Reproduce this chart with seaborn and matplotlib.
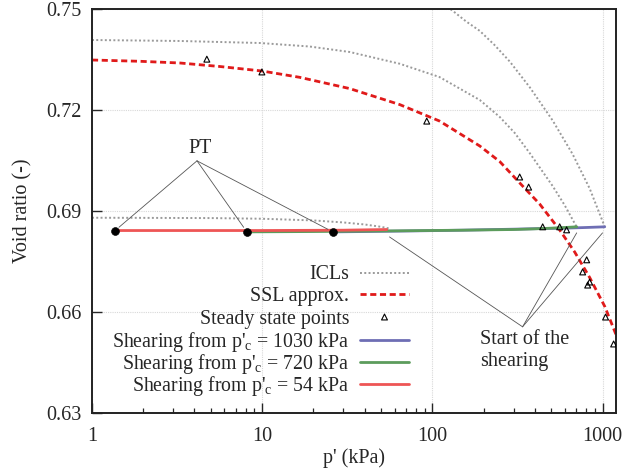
import numpy as np
import pandas as pd
import matplotlib
matplotlib.use("Agg")
import matplotlib.pyplot as plt
import seaborn as sns
from matplotlib.ticker import LogLocator, NullFormatter

# isotropic compression lines
icl_upper_p = [1, 3.29, 9.7, 19.0, 32.7, 64.3, 110, 190, 249, 305, 373, 509, 598, 705]
icl_upper_e = [0.74079, 0.74050, 0.73990, 0.73886, 0.73723, 0.73374, 0.72980, 0.72297,
               0.71792, 0.71317, 0.70723, 0.69743, 0.69179, 0.68525]
icl_steep_p = [110, 130, 157, 190, 232, 285, 373, 509, 667, 840, 1029]
icl_steep_e = [0.7518, 0.7497, 0.7464, 0.7435, 0.7393, 0.7344, 0.7268, 0.7169, 0.7069, 0.6967, 0.6854]
icl_lower_p = [1, 5, 10, 20, 30, 40, 50, 56]
icl_lower_e = [0.6880, 0.6879, 0.6877, 0.6872, 0.6866, 0.6860, 0.6853, 0.6848]

# steady state line approximation
ssl_p = [1, 1.91, 3.29, 5.64, 9.96, 16.6, 32.7, 64.3, 110, 190, 249, 339, 427, 560, 686, 840, 1031, 1200]
ssl_e = [0.73485, 0.73447, 0.73396, 0.73292, 0.73159, 0.72971, 0.72636, 0.72161, 0.71674,
         0.70931, 0.70468, 0.69743, 0.69209, 0.68436, 0.67783, 0.67026, 0.66164, 0.65330]

# steady state points
ss_p = [4.73, 9.96, 92.7, 326, 368, 445, 560, 615, 807, 764, 840, 818, 1042, 1162]
ss_e = [0.7351, 0.7313, 0.7167, 0.7001, 0.6971, 0.6853, 0.6853, 0.6844, 0.6755,
        0.6719, 0.6689, 0.6680, 0.6585, 0.6505]

# shearing paths
sh1030_p = [1030, 800, 600, 450, 300, 150, 80, 40, 26]
sh1030_e = [0.6853, 0.6851, 0.6849, 0.6848, 0.6846, 0.6843, 0.6841, 0.6839, 0.6838]
sh720_p = [705, 600, 500, 400, 300, 150, 60, 20, 8.1]
sh720_e = [0.6853, 0.6851, 0.6849, 0.6847, 0.6845, 0.6843, 0.6841, 0.6839, 0.6838]
sh54_p = [54, 30, 10, 5, 2, 1.36]
sh54_e = [0.6845, 0.6843, 0.6842, 0.6842, 0.6842, 0.6842]

# phase transformation points
pt_p = [1.36, 8.13, 26.0]
pt_e = [0.6841, 0.6838, 0.6838]

legend_labels = ["ICLs", "SSL approx.", "Steady state points",
                 "Shearing from p'$_\\mathregular{c}$ = 1030 kPa",
                 "Shearing from p'$_\\mathregular{c}$ = 720 kPa",
                 "Shearing from p'$_\\mathregular{c}$ = 54 kPa"]

sns.set_style("ticks")
plt.rcParams["font.family"] = ["Liberation Serif", "DejaVu Serif"]
plt.rcParams["mathtext.fontset"] = "custom"
plt.rcParams["mathtext.rm"] = "Liberation Serif"
fs = 14.5

fig = plt.figure(figsize=(6.28, 4.72), dpi=100)
ax = fig.add_axes([92 / 628, 1 - 413 / 472, 524 / 628, 404 / 472])

icl_style = dict(color="#9a9a9a", linestyle=(0, (1, 1.2)), linewidth=1.4)
ssl_style = dict(color="#e01a1a", linestyle=(0, (2.2, 1.3)), linewidth=2.0)
tri_style = dict(marker="^", s=18, facecolor="none", edgecolor="black", linewidth=0.8)
sh_colors = ["#6e6eb4", "#5c9c5c", "#ee5555"]

for pp, ee in [(icl_upper_p, icl_upper_e), (icl_steep_p, icl_steep_e), (icl_lower_p, icl_lower_e)]:
    sns.lineplot(x=pp, y=ee, sort=False, estimator=None, ax=ax, **icl_style)

sns.lineplot(x=ssl_p, y=ssl_e, sort=False, estimator=None, ax=ax, **ssl_style)
sns.scatterplot(x=ss_p, y=ss_e, ax=ax, zorder=5, **tri_style)

for (pp, ee), c in zip([(sh1030_p, sh1030_e), (sh720_p, sh720_e), (sh54_p, sh54_e)], sh_colors):
    sns.lineplot(x=pp, y=ee, sort=False, estimator=None, ax=ax, color=c, linewidth=2.0)

sns.scatterplot(x=pt_p, y=pt_e, color="black", s=32, edgecolor="black", ax=ax, zorder=6)

ax.set_xscale("log")
ax.set_xlim(1, 1200)
ax.set_ylim(0.63, 0.75)
ax.set_xticks([1, 10, 100, 1000], labels=["1", "10", "100", "1000"])
ax.xaxis.set_minor_locator(LogLocator(base=10, subs=np.arange(2, 10)))
ax.xaxis.set_minor_formatter(NullFormatter())
ax.set_yticks([0.63, 0.66, 0.69, 0.72, 0.75], labels=["0.63", "0.66", "0.69", "0.72", "0.75"])
ax.tick_params(axis="both", which="major", direction="in", length=7, width=1, labelsize=fs,
               top=False, right=False)
ax.tick_params(axis="y", which="major", pad=7.3)
ax.tick_params(axis="x", which="major", pad=10)
ax.tick_params(axis="x", which="minor", direction="in", length=3.5, width=0.9, top=False)
ax.grid(True, which="major", color="#d8d8d8", linestyle=(0, (1, 1)), linewidth=0.8)
for s in ax.spines.values():
    s.set_linewidth(1.4)
    s.set_color("#222222")

ax.set_xlabel("p' (kPa)", fontsize=fs, labelpad=2)
ax.set_ylabel("Void ratio (-)", fontsize=fs, labelpad=10)

# PT annotations
ax.text(4.31, 0.7087, "PT", ha="center", va="center", fontsize=fs)
for xp, ye in zip(pt_p, pt_e):
    ax.annotate("", xy=(xp, ye), xytext=(4.14, 0.7049),
                arrowprops=dict(arrowstyle="-", color="#555555", lw=0.6, shrinkA=0, shrinkB=4))

# start of shearing annotations
ax.text(190, 0.6547, "Start of the\nshearing", ha="left", va="top", fontsize=fs, linespacing=1.2)
for xp, ye in [(56, 0.6823), (705, 0.6835), (1000, 0.6835)]:
    ax.annotate("", xy=(xp, ye), xytext=(339, 0.6556),
                arrowprops=dict(arrowstyle="-", color="#555555", lw=0.6, shrinkA=0, shrinkB=0))

# legend: labels right aligned, samples to the right (as in the original figure)
row_px = [272.5, 294, 317, 340, 362, 384]
tr = ax.transAxes
hx0, hx1 = (360 - 92) / 524, (409 - 92) / 524
tx = (349 - 92) / 524
for i, (lab, ry) in enumerate(zip(legend_labels, row_px)):
    ya = (413 - ry) / 404
    yb = (413 - ry - 6.8) / 404
    ax.text(tx, yb, lab, transform=tr, ha="right", va="baseline", fontsize=14.3)
    if i == 0:
        ax.plot([hx0, hx1], [ya, ya], transform=tr, clip_on=False, **icl_style)
    elif i == 1:
        ax.plot([hx0, hx1], [ya, ya], transform=tr, clip_on=False, **ssl_style)
    elif i == 2:
        ax.scatter([(hx0 + hx1) / 2], [ya], transform=tr, clip_on=False, **tri_style)
    else:
        ax.plot([hx0, hx1], [ya, ya], transform=tr, clip_on=False, color=sh_colors[i - 3], linewidth=2.0)

fig.savefig("out.png", dpi=100)
